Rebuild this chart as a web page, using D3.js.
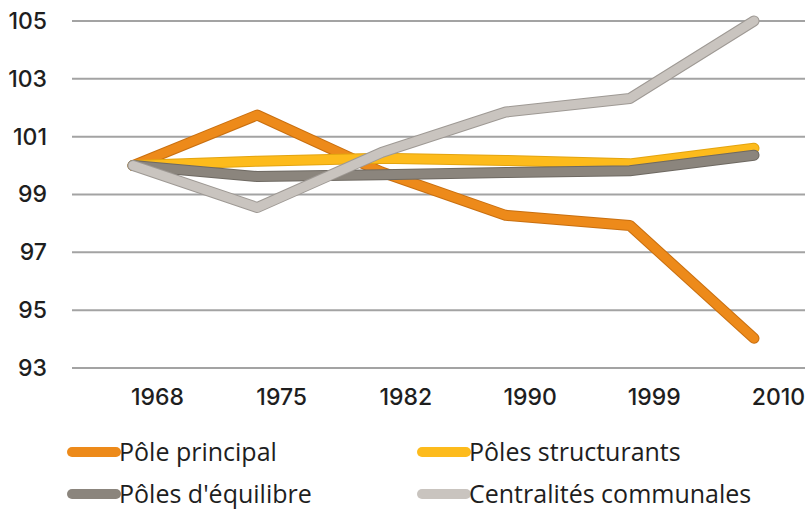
<!DOCTYPE html>
<html>
<head>
<meta charset="utf-8">
<script src="https://cdn.jsdelivr.net/npm/d3@7"></script>
<style>
  html, body { margin: 0; padding: 0; background: #fff; }
  svg { display: block; font-family: "Open Sans", Lato, sans-serif; }
</style>
</head>
<body>
<svg id="chart" width="805" height="512"></svg>
<script>
// Years on the category axis
const years = ['1968', '1975', '1982', '1990', '1999', '2010'];

// Index values (base 100 in 1968)
const polePrincipal = [100, 101.75, 99.78, 98.28, 97.93, 94.03];
const polesStructurants = [100, 100.15, 100.25, 100.18, 100.06, 100.6];
const polesEquilibre = [100, 99.62, 99.68, 99.76, 99.82, 100.36];
const centralites = [100, 98.55, 100.45, 101.85, 102.32, 105.0];

const yTicks = [93, 95, 97, 99, 101, 103, 105];

const seriesNames = ['Pôle principal', 'Pôles structurants', "Pôles d'équilibre", 'Centralités communales'];
const seriesColors = ['#ED8A1A', '#FDBB1C', '#8B857D', '#C9C4BF'];
const seriesEdges = ['#C86F10', '#E3A410', '#6E6962', '#9E9994'];

const series = [polePrincipal, polesStructurants, polesEquilibre, centralites].map((values, i) => ({
  name: seriesNames[i],
  color: seriesColors[i],
  edge: seriesEdges[i],
  values: values
}));

const svg = d3.select('#chart');

// Scales
const x = d3.scalePoint().domain(years).range([133, 754]);
const y = d3.scaleLinear().domain([93, 105]).range([368, 21]);

// Horizontal gridlines
svg.append('g')
  .selectAll('line')
  .data(yTicks)
  .enter()
  .append('line')
  .attr('x1', 72)
  .attr('x2', 805)
  .attr('y1', (d) => y(d))
  .attr('y2', (d) => y(d))
  .attr('stroke', '#a3a3a3')
  .attr('stroke-width', 2);

// Y axis labels
const yAxis = svg.append('g')
  .attr('transform', 'translate(47,0)')
  .call(d3.axisLeft(y).tickValues(yTicks).tickSize(0).tickPadding(0));
yAxis.select('.domain').remove();
yAxis.selectAll('text')
  .attr('fill', '#1e1e1e')
  .style('font-family', 'Inter, "Open Sans", sans-serif')
  .style('font-size', '23px')
  .style('font-weight', '500');

// X axis labels (shifted to the right of the points, as in the original)
const xAxis = svg.append('g')
  .attr('transform', 'translate(24,389)')
  .call(d3.axisBottom(x).tickSize(0).tickPadding(0));
xAxis.select('.domain').remove();
xAxis.selectAll('text')
  .attr('fill', '#1e1e1e')
  .style('font-family', 'Inter, "Open Sans", sans-serif')
  .style('font-size', '23px')
  .style('font-weight', '500');

// Lines
const line = d3.line()
  .x((d, i) => x(years[i]))
  .y((d) => y(d));

const lines = svg.append('g');
series.forEach((s) => {
  lines.append('path')
    .attr('d', line(s.values))
    .attr('fill', 'none')
    .attr('stroke', s.edge)
    .attr('stroke-width', 11)
    .attr('stroke-linejoin', 'round')
    .attr('stroke-linecap', 'round');
  lines.append('path')
    .attr('d', line(s.values))
    .attr('fill', 'none')
    .attr('stroke', s.color)
    .attr('stroke-width', 9)
    .attr('stroke-linejoin', 'round')
    .attr('stroke-linecap', 'round');
});

// Legend (2 x 2)
const legendPos = [[68, 452], [418, 452], [68, 494], [418, 494]];
const legend = svg.append('g')
  .selectAll('g')
  .data(series)
  .enter()
  .append('g')
  .attr('transform', (d, i) => `translate(${legendPos[i][0]},${legendPos[i][1]})`);

legend.append('line')
  .attr('x1', 4)
  .attr('x2', 48)
  .attr('stroke', (d) => d.color)
  .attr('stroke-width', 10)
  .attr('stroke-linecap', 'round');

legend.append('text')
  .attr('x', 51)
  .attr('y', 9)
  .attr('fill', '#1e1e1e')
  .style('font-size', '25px')
  .text((d) => d.name);
</script>
</body>
</html>
